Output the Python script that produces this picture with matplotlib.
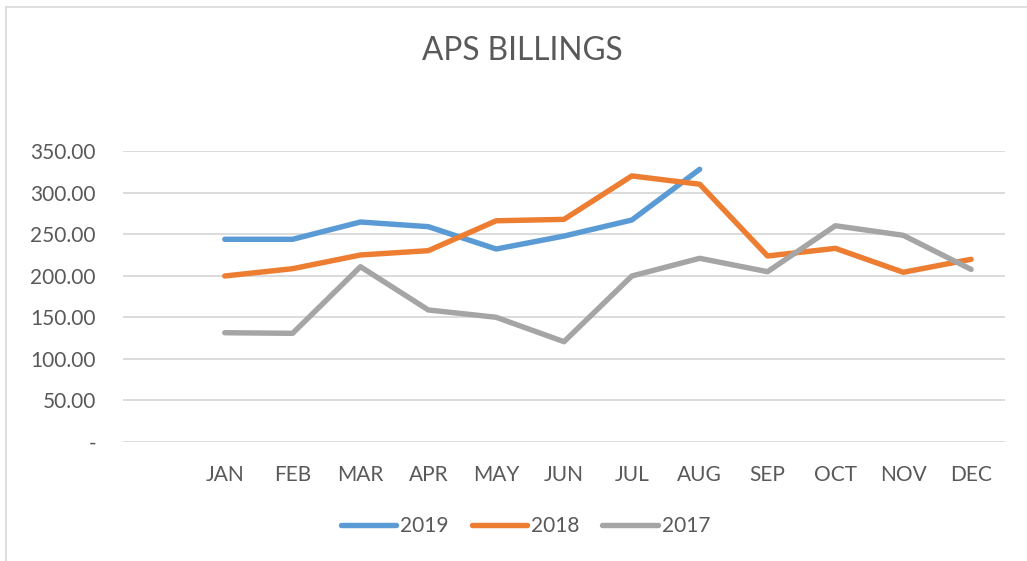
import matplotlib
matplotlib.use("Agg")
import matplotlib.pyplot as plt
from matplotlib.lines import Line2D

plt.rcParams['font.family'] = ['Lato', 'DejaVu Sans']

months = ["JAN", "FEB", "MAR", "APR", "MAY", "JUN", "JUL", "AUG", "SEP", "OCT", "NOV", "DEC"]
s2019 = [243.7, 243.7, 264.5, 258.9, 232.0, 247.6, 266.9, 328.0]
s2018 = [199.5, 208.3, 224.8, 230.0, 266.0, 267.7, 320.0, 310.0, 223.6, 232.8, 204.0, 219.6]
s2017 = [131.2, 130.5, 210.7, 158.6, 149.8, 120.4, 199.5, 220.8, 204.7, 260.0, 248.5, 207.5]
yticks = [0, 50, 100, 150, 200, 250, 300, 350]
ylabels = ["-", "50.00", "100.00", "150.00", "200.00", "250.00", "300.00", "350.00"]

txt = "#595959"
W, H = 1027, 561
fig = plt.figure(figsize=(W / 100, H / 100), dpi=100)
ax = fig.add_axes([123 / W, 1 - 441.7 / H, (1005 - 123) / W, (441.7 - 151) / H])

# first category slot is blank
xpos = list(range(1, 13))
ax.plot(xpos[:len(s2019)], s2019, color="#5B9BD5", lw=3.9, solid_capstyle="round", solid_joinstyle="round", label="2019", zorder=3)
ax.plot(xpos, s2018, color="#ED7D31", lw=3.9, solid_capstyle="round", solid_joinstyle="round", label="2018", zorder=3)
ax.plot(xpos, s2017, color="#A5A5A5", lw=3.9, solid_capstyle="round", solid_joinstyle="round", label="2017", zorder=3)

ax.set_xlim(-0.5, 12.5)
ax.set_ylim(0, 350)
ax.set_yticks(yticks)
ax.set_yticklabels(ylabels)
ax.set_xticks(xpos)
ax.set_xticklabels(months)
ax.grid(axis="y", color="#D9D9D9", lw=1.3)
ax.set_axisbelow(True)
for sp in ax.spines.values():
    sp.set_visible(False)
ax.tick_params(axis="both", length=0, colors=txt, labelsize=15)
ax.tick_params(axis="y", pad=19.5)
ax.tick_params(axis="x", pad=16.8)

fig.text(522 / W, 1 - 51 / H, "APS BILLINGS", ha="center", va="center", fontsize=22.8, color=txt)

leg = fig.legend(loc="center", bbox_to_anchor=(525.5 / W, 1 - 526.5 / H), ncol=3, frameon=False,
                 fontsize=15, handlelength=2.65, handletextpad=0.2, columnspacing=1.1)
for t in leg.get_texts():
    t.set_color(txt)

# chart border
fig.add_artist(Line2D([6 / W, 1], [1 - 7 / H, 1 - 7 / H], color="#D9D9D9", lw=1.2))
fig.add_artist(Line2D([6 / W, 6 / W], [0, 1 - 7 / H], color="#D9D9D9", lw=1.2))

fig.savefig("out.png", dpi=100, facecolor="white")
